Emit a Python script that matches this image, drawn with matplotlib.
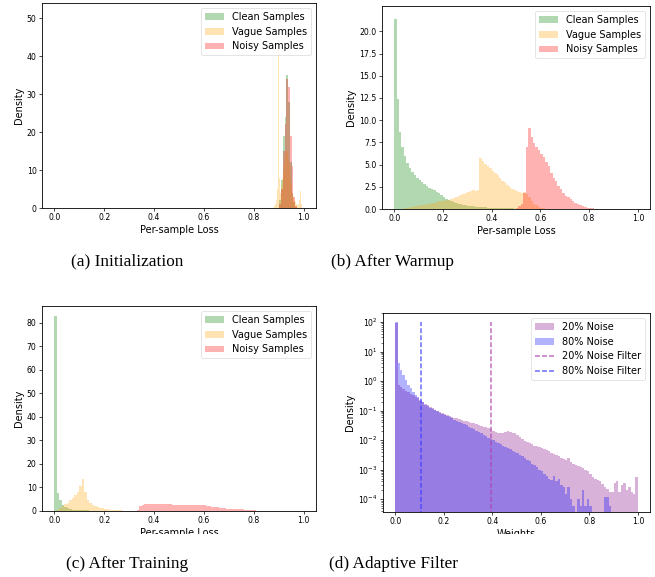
import matplotlib
matplotlib.use("Agg")
import matplotlib.pyplot as plt
import numpy as np
from matplotlib.patches import Rectangle

# ---- histogram heights (density per bin) ----

# (a) Initialization: narrow bins around 0.9
INIT_CLEAN_START, INIT_CLEAN_W = 0.903, 0.007
INIT_CLEAN = [2.0, 7.5, 19.0, 24.0, 35.0, 28.0, 12.0, 4.0, 1.5, 0.3]
INIT_NOISY = [1.0, 5.0, 15.0, 22.0, 34.0, 32.0, 19.0, 11.0, 3.0, 0.5]
INIT_VAGUE_START, INIT_VAGUE_W = 0.880, 0.004
INIT_VAGUE = [0.4, 1.0, 2.0, 5.0, 44.0, 8.0, 4.0, 6.0, 8.0, 10.0,
              12.0, 14.0, 15.0, 15.0, 13.0, 11.0, 8.0, 6.0, 4.0, 3.0,
              2.0, 1.5, 1.0, 0.8, 1.0, 2.0, 4.5, 1.0]

# (b) After warmup, 0.01 bins
WARM_CLEAN_START = 0.00
WARM_CLEAN = [21.4, 12.4, 8.7, 7.0, 6.0, 5.2, 4.6, 4.2, 3.8, 3.5,
              3.25, 3.0, 2.8, 2.6, 2.4, 2.25, 2.1, 1.95, 1.75, 1.55,
              1.35, 1.15, 1.0, 0.88, 0.78, 0.68, 0.6, 0.53, 0.47, 0.42,
              0.37, 0.33, 0.3, 0.27, 0.24, 0.22, 0.2, 0.18, 0.16, 0.15,
              0.13, 0.12, 0.11, 0.1, 0.09, 0.08, 0.07, 0.065, 0.06, 0.055,
              0.05, 0.045, 0.04, 0.035, 0.03, 0.03, 0.025, 0.02, 0.02, 0.015, 0.01]
WARM_VAGUE_START = 0.03
WARM_VAGUE = [0.05, 0.1, 0.15, 0.2, 0.25, 0.3, 0.35, 0.4, 0.45, 0.5,
              0.55, 0.6, 0.65, 0.7, 0.78, 0.85, 0.9, 0.95, 1.0, 1.05,
              1.1, 1.2, 1.3, 1.45, 1.6, 1.7, 1.85, 1.9, 2.0, 2.1,
              2.05, 2.1, 5.7, 5.4, 5.1, 4.8, 4.6, 4.3, 4.1, 3.8,
              3.5, 3.2, 3.0, 2.7, 2.5, 2.3, 2.1, 2.0, 1.9, 1.85,
              1.9, 1.7, 1.3, 0.9, 0.6, 0.4, 0.25, 0.15, 0.1, 0.05]
WARM_NOISY_START = 0.50
WARM_NOISY = [0.1, 0.3, 0.6, 1.85, 7.0, 9.1, 8.1, 7.4, 7.0, 6.6,
              6.2, 5.9, 5.3, 4.8, 4.0, 3.5, 3.1, 2.6, 2.2, 1.8,
              1.5, 1.3, 1.1, 0.9, 0.7, 0.55, 0.4, 0.3, 0.22, 0.15,
              0.1, 0.06, 0.04, 0.02]

# (c) After training, 0.01 bins
TRAIN_CLEAN_START = 0.00
TRAIN_CLEAN = [83.0, 7.5, 4.5, 2.5, 1.6, 1.1, 0.8, 0.6, 0.5, 0.4,
               0.35, 0.3, 0.25, 0.22, 0.2, 0.18, 0.15, 0.13, 0.11, 0.1,
               0.08, 0.07, 0.06, 0.05, 0.05, 0.04, 0.03, 0.03, 0.02, 0.02, 0.01]
TRAIN_VAGUE_START = 0.00
TRAIN_VAGUE = [0.1, 0.5, 1.2, 2.0, 2.8, 3.6, 4.6, 5.6, 6.6, 8.0,
               10.5, 13.8, 8.0, 4.5, 3.2, 2.6, 2.1, 1.7, 1.4, 1.1,
               0.9, 0.7, 0.55, 0.45, 0.35, 0.3, 0.25, 0.2, 0.15, 0.12,
               0.1, 0.08, 0.06, 0.05, 0.04, 0.03]
TRAIN_NOISY_START = 0.33
TRAIN_NOISY = [0.3, 2.0, 2.7, 2.9, 3.0, 3.1, 3.1, 3.1, 3.0, 3.0,
               2.9, 2.9, 2.8, 2.8, 2.75, 2.7, 2.7, 2.65, 2.65, 2.6,
               2.6, 2.6, 2.6, 2.6, 2.6, 2.55, 2.5, 2.4, 2.3, 2.1,
               1.9, 1.7, 1.5, 1.35, 1.2, 1.1, 1.0, 0.95, 0.9, 0.85,
               0.8, 0.75, 0.7, 0.6, 0.5, 0.4, 0.3, 0.25, 0.2, 0.15,
               0.1, 0.05, 0.03]

# (d) Adaptive filter: weight histograms (log density), 0.01 bins from 0
NOISE20 = [95.0, 0.75, 0.65, 0.55, 0.48, 0.42, 0.37, 0.33, 0.29, 0.26,
           0.23, 0.2, 0.17, 0.15, 0.135, 0.12, 0.108, 0.098, 0.09, 0.083,
           0.077, 0.072, 0.067, 0.062, 0.058, 0.055, 0.052, 0.049, 0.046, 0.043,
           0.041, 0.039, 0.037, 0.035, 0.033, 0.031, 0.029, 0.027, 0.025, 0.023,
           0.021, 0.019, 0.018, 0.017, 0.018, 0.019, 0.02, 0.019, 0.018, 0.017,
           0.015, 0.0125, 0.011, 0.0095, 0.0088, 0.008, 0.0075, 0.0065, 0.0062, 0.006,
           0.0055, 0.005, 0.0046, 0.0042, 0.0038, 0.0035, 0.0031, 0.0028, 0.0025, 0.0023,
           0.0021, 0.0025, 0.0018, 0.0016, 0.0014, 0.0013, 0.0012, 0.0011, 0.001, 0.0009,
           0.0007, 0.00057, 0.0005, 0.00045, 0.0004, 0.00033, 0.00027, 0.00022, 0.00018, 0.00018,
           0.00035, 0.0004, 0.00018, 0.0003, 0.00035, 0.0002, 0.00025, 0.00018, 0.00015, 0.00055]
NOISE80 = [100.0, 4.0, 2.4, 1.6, 1.1, 0.75, 0.57, 0.44, 0.34, 0.28,
           0.22, 0.19, 0.16, 0.14, 0.125, 0.113, 0.103, 0.094, 0.086, 0.079,
           0.072, 0.066, 0.06, 0.055, 0.05, 0.046, 0.042, 0.038, 0.035, 0.032,
           0.029, 0.026, 0.023, 0.021, 0.019, 0.017, 0.015, 0.0135, 0.012, 0.011,
           0.0098, 0.0088, 0.008, 0.0072, 0.0065, 0.006, 0.0054, 0.0049, 0.0044, 0.004,
           0.0036, 0.0032, 0.0028, 0.0025, 0.0022, 0.0019, 0.0016, 0.0014, 0.0012, 0.001,
           0.0009, 0.0007, 0.0006, 0.0005, 0.00045, 0.0006, 0.0004, 0.0005, 0.0003, 0.00025,
           0.00015, 0.00025, 0.0001, 0.00006, 0.0, 0.0001, 0.00006, 0.0002, 0.00006, 0.0001,
           0.00006, 0.0, 0.0, 0.0, 0.0, 0.0, 0.00012, 0.00012, 0.00006, 0.0,
           0.0, 0.0, 0.0, 0.0, 0.0, 0.0, 0.0, 0.0, 0.0, 0.0]
FILTER20 = 0.395
FILTER80 = 0.107

CAPTIONS = ["(a) Initialization", "(b) After Warmup",
            "(c) After Training", "(d) Adaptive Filter"]
LOSS_LABELS = ["Clean Samples", "Vague Samples", "Noisy Samples"]
LOSS_COLORS = ["green", "orange", "red"]

plt.rcParams.update({
    "font.family": "DejaVu Sans",
    "axes.linewidth": 0.6,
    "axes.labelsize": 7,
    "axes.labelpad": 2.2,
    "xtick.labelsize": 5.6,
    "ytick.labelsize": 5.6,
    "xtick.major.size": 2.0,
    "ytick.major.size": 2.0,
    "xtick.major.width": 0.5,
    "ytick.major.width": 0.5,
    "xtick.major.pad": 1.9,
    "ytick.major.pad": 1.9,
    "ytick.minor.size": 1.1,
    "ytick.minor.width": 0.4,
    "legend.fontsize": 7,
    "patch.linewidth": 0.45,
})


def edges(start, n, width=0.01):
    return start + width * np.arange(n + 1)


def loss_panel(ax, series, ylim):
    for (start, width, vals), lab, col in zip(series, LOSS_LABELS, LOSS_COLORS):
        ax.stairs(vals, edges(start, len(vals), width), fill=True,
                  color=col, alpha=0.3, linewidth=0, label=lab)
    ax.set_xlim(-0.05, 1.05)
    ax.set_ylim(*ylim)
    ax.set_xticks(np.arange(0, 1.01, 0.2))
    ax.set_xlabel("Per-sample Loss")
    ax.set_ylabel("Density")
    ax.legend(loc="upper right")


fig = plt.figure(figsize=(6.55, 5.77), dpi=100)
W, H = 655, 577


def add_ax(left, right, top, bottom):
    return fig.add_axes([left / W, (H - bottom) / H, (right - left) / W, (bottom - top) / H])


ax_a = add_ax(42, 316, 3, 208)
ax_b = add_ax(382, 650, 6, 209)
ax_c = add_ax(42, 316, 306, 511)
ax_d = add_ax(383, 650, 313, 512)

loss_panel(ax_a, [(INIT_CLEAN_START, INIT_CLEAN_W, INIT_CLEAN),
                  (INIT_VAGUE_START, INIT_VAGUE_W, INIT_VAGUE),
                  (INIT_CLEAN_START, INIT_CLEAN_W, INIT_NOISY)], (0, 54))
ax_a.set_yticks(np.arange(0, 51, 10))

loss_panel(ax_b, [(WARM_CLEAN_START, 0.01, WARM_CLEAN),
                  (WARM_VAGUE_START, 0.01, WARM_VAGUE),
                  (WARM_NOISY_START, 0.01, WARM_NOISY)], (0, 22.85))
ax_b.set_yticks(np.arange(0, 20.1, 2.5))
ax_b.yaxis.set_major_formatter(plt.FuncFormatter(lambda v, _: f"{v:.1f}"))

loss_panel(ax_c, [(TRAIN_CLEAN_START, 0.01, TRAIN_CLEAN),
                  (TRAIN_VAGUE_START, 0.01, TRAIN_VAGUE),
                  (TRAIN_NOISY_START, 0.01, TRAIN_NOISY)], (0, 87.2))
ax_c.set_yticks(np.arange(0, 81, 10))

# (d) weights on log scale
ax_d.set_yscale("log")
e = edges(0.0, len(NOISE20))
ax_d.stairs(NOISE20, e, fill=True, baseline=1e-6, color="purple", alpha=0.3,
            linewidth=0, label="20% Noise")
ax_d.stairs(NOISE80, e, fill=True, baseline=1e-6, color="blue", alpha=0.3,
            linewidth=0, label="80% Noise")
ax_d.vlines(FILTER20, 1e-6, 100, colors="#b040b0", linestyles=(0, (3.2, 1.4)),
            alpha=0.75, linewidth=1.1, label="20% Noise Filter")
ax_d.vlines(FILTER80, 1e-6, 100, colors="#3a3aff", linestyles=(0, (3.2, 1.4)),
            alpha=0.75, linewidth=1.1, label="80% Noise Filter")
ax_d.set_xlim(-0.05, 1.05)
ax_d.set_ylim(3.7e-5, 202)
ax_d.set_xticks(np.arange(0, 1.01, 0.2))
ax_d.set_xlabel("Weights")
ax_d.set_ylabel("Density")
ax_d.legend(loc="upper right")

# lower subplot images are cropped through their x labels
fig.patches.append(Rectangle((0, (H - 546) / H), 1, 12 / H, transform=fig.transFigure,
                             facecolor="white", edgecolor="none", zorder=5))

cap_kw = dict(family="Liberation Serif", fontsize=12.4, ha="center", va="center", zorder=6)
fig.text(127.5 / W, (H - 261.5) / H, CAPTIONS[0], **cap_kw)
fig.text(392.5 / W, (H - 261.5) / H, CAPTIONS[1], **cap_kw)
fig.text(127.5 / W, (H - 564) / H, CAPTIONS[2], **cap_kw)
fig.text(393.3 / W, (H - 564) / H, CAPTIONS[3], **cap_kw)

fig.savefig("out.png", dpi=100)
